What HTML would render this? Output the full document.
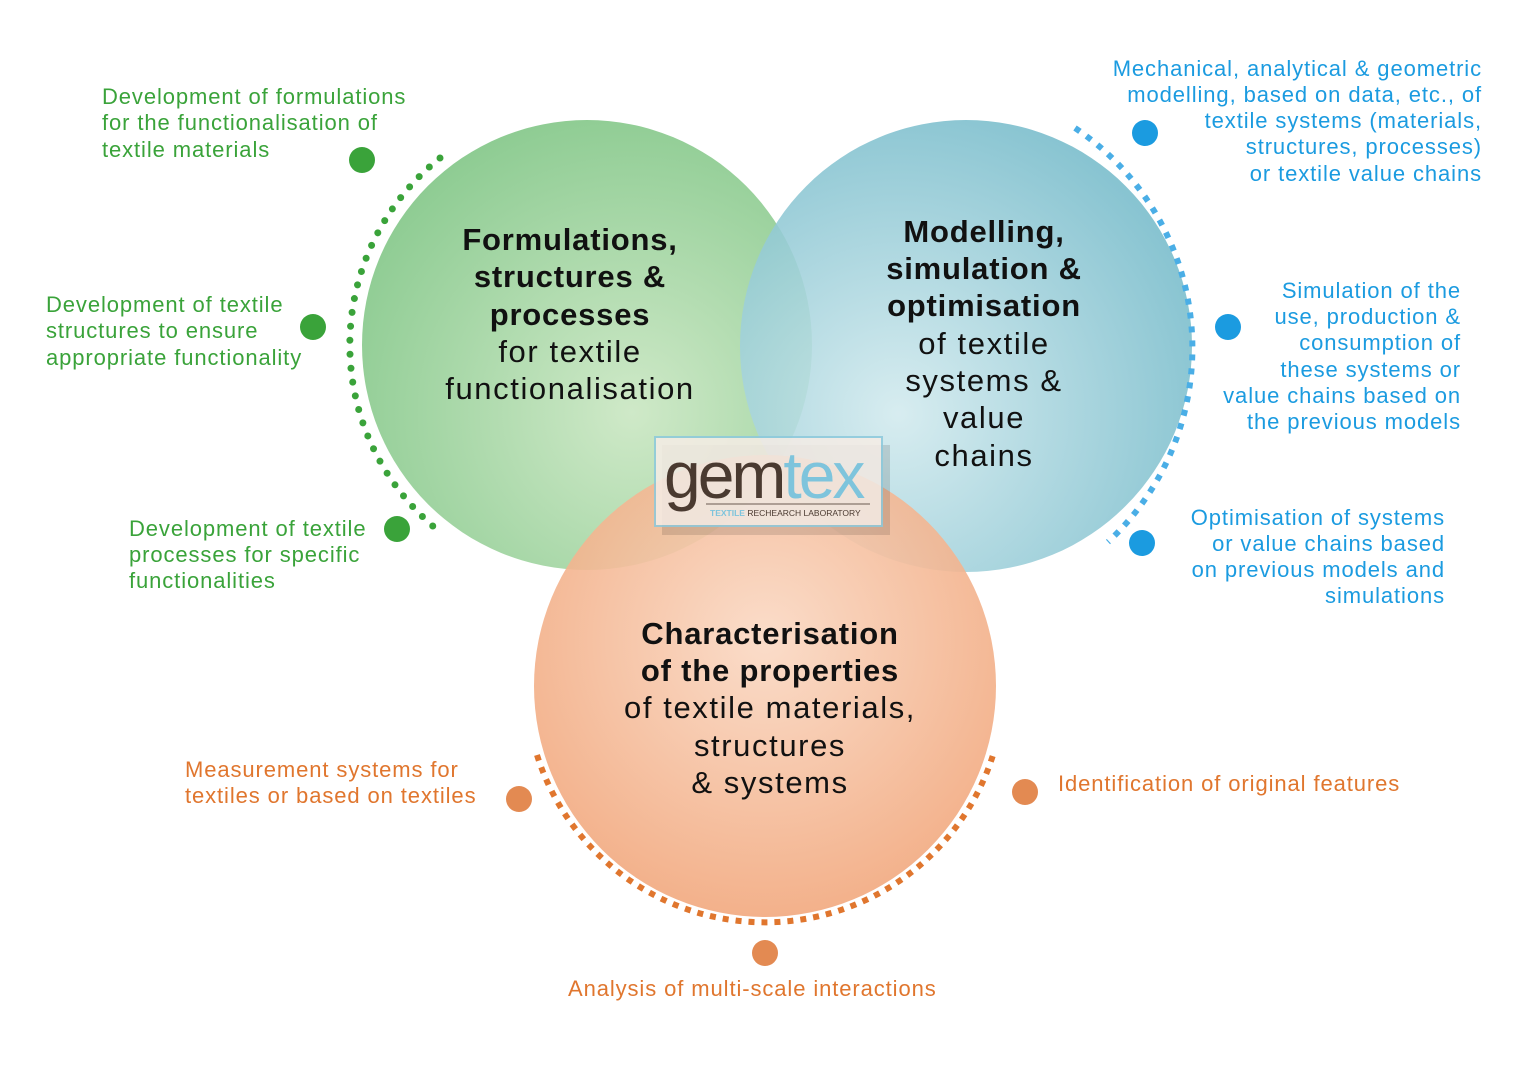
<!DOCTYPE html>
<html><head><meta charset="utf-8"><style>
html,body{margin:0;padding:0;background:#fff}
svg{display:block}
text{font-family:"Liberation Sans",sans-serif}
.g{fill:#3aa33a;font-size:22px;letter-spacing:0.9px}
.b{fill:#1b9be0;font-size:22px;letter-spacing:0.9px}
.o{fill:#e0762e;font-size:22px;letter-spacing:0.9px}
.h{font-size:31px;fill:#111;letter-spacing:1.6px}
.hb{font-weight:bold;letter-spacing:0.8px}
</style></head><body>
<svg width="1536" height="1086" viewBox="0 0 1536 1086" xmlns="http://www.w3.org/2000/svg">
<defs>
<radialGradient id="gg" cx="0.6" cy="0.65" r="0.7"><stop offset="0" stop-color="#cfe9c8"/><stop offset="1" stop-color="#8ccb91"/></radialGradient>
<radialGradient id="bg" cx="0.35" cy="0.65" r="0.7"><stop offset="0" stop-color="#d2eaee"/><stop offset="1" stop-color="#78bccb"/></radialGradient>
<radialGradient id="og" cx="0.5" cy="0.4" r="0.7"><stop offset="0" stop-color="#fad9c4"/><stop offset="1" stop-color="#f0a072"/></radialGradient>
</defs>
<circle cx="587" cy="345" r="225" fill="url(#gg)"/>
<circle cx="966" cy="346" r="226" fill="url(#bg)" opacity="0.88"/>
<circle cx="765" cy="686" r="231" fill="url(#og)" opacity="0.9"/>
<path d="M440,158 A239,239 0 0 0 440,532" fill="none" stroke="#3aa33a" stroke-width="7" stroke-linecap="round" stroke-dasharray="0 14"/>
<path d="M1075,128 A265,265 0 0 1 1108,542" fill="none" stroke="#4aaee6" stroke-width="6" stroke-dasharray="6 8"/>
<path d="M537,755 A239,239 0 0 0 993,755" fill="none" stroke="#e0762e" stroke-width="6" stroke-dasharray="6 7"/>
<g fill="#3aa33a"><circle cx="362" cy="160" r="13"/><circle cx="313" cy="327" r="13"/><circle cx="397" cy="529" r="13"/></g>
<g fill="#1b9be0"><circle cx="1145" cy="133" r="13"/><circle cx="1228" cy="327" r="13"/><circle cx="1142" cy="543" r="13"/></g>
<g fill="#e38a52"><circle cx="519" cy="799" r="13"/><circle cx="1025" cy="792" r="13"/><circle cx="765" cy="953" r="13"/></g>
<g class="g"><text x="102" y="104">Development of formulations</text><text x="102" y="130">for the functionalisation of</text><text x="102" y="157">textile materials</text>
<text x="46" y="312">Development of textile</text><text x="46" y="338">structures to ensure</text><text x="46" y="365">appropriate functionality</text>
<text x="129" y="536">Development of textile</text><text x="129" y="562">processes for specific</text><text x="129" y="588">functionalities</text></g>
<g class="b" text-anchor="end"><text x="1482" y="76">Mechanical, analytical &amp; geometric</text><text x="1482" y="102">modelling, based on data, etc., of</text><text x="1482" y="128">textile systems (materials,</text><text x="1482" y="154">structures, processes)</text><text x="1482" y="181">or textile value chains</text>
<text x="1461" y="298">Simulation of the</text><text x="1461" y="324">use, production &amp;</text><text x="1461" y="350">consumption of</text><text x="1461" y="377">these systems or</text><text x="1461" y="403">value chains based on</text><text x="1461" y="429">the previous models</text>
<text x="1445" y="525">Optimisation of systems</text><text x="1445" y="551">or value chains based</text><text x="1445" y="577">on previous models and</text><text x="1445" y="603">simulations</text></g>
<g class="o"><text x="185" y="777">Measurement systems for</text><text x="185" y="803">textiles or based on textiles</text>
<text x="1058" y="791">Identification of original features</text>
<text x="568" y="996">Analysis of multi-scale interactions</text></g>
<g class="h" text-anchor="middle">
<text x="570" y="250" class="hb">Formulations,</text><text x="570" y="287" class="hb">structures &amp;</text><text x="570" y="325" class="hb">processes</text><text x="570" y="362">for textile</text><text x="570" y="399">functionalisation</text>
<text x="984" y="242" class="hb">Modelling,</text><text x="984" y="279" class="hb">simulation &amp;</text><text x="984" y="316" class="hb">optimisation</text><text x="984" y="354">of textile</text><text x="984" y="391">systems &amp;</text><text x="984" y="428">value</text><text x="984" y="466">chains</text>
<text x="770" y="644" class="hb">Characterisation</text><text x="770" y="681" class="hb">of the properties</text><text x="770" y="718">of textile materials,</text><text x="770" y="756">structures</text><text x="770" y="793">&amp; systems</text></g>
<rect x="658" y="440" width="228" height="90" fill="#000" opacity="0.12" transform="translate(4,5)"/>
<rect x="655" y="437" width="227" height="89" fill="#f6ede6" opacity="0.85" stroke="#8cc9dc" stroke-width="2"/>
<text x="664" y="498" font-size="66" fill="#4a3a30" style="letter-spacing:-3px">gem<tspan fill="#7ec4dc">tex</tspan></text>
<line x1="706" y1="504" x2="870" y2="504" stroke="#6a5a50" stroke-width="1"/>
<text x="710" y="516" font-size="8.5" fill="#4a3a30"><tspan fill="#7ec4dc" font-weight="bold">TEXTILE</tspan> RECHEARCH LABORATORY</text>
</svg>
</body></html>
